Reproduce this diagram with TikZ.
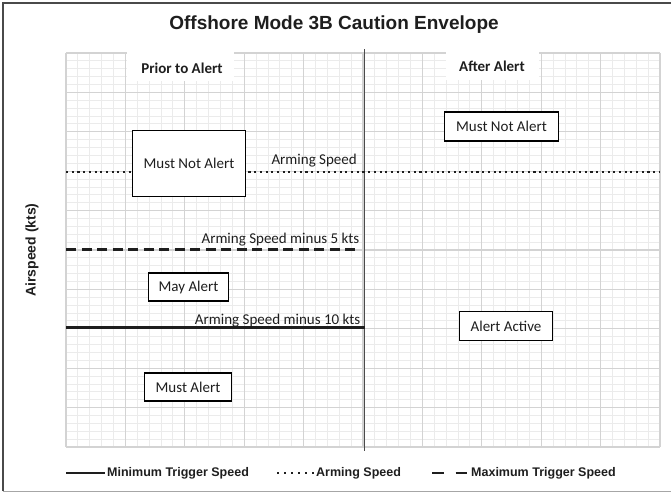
\documentclass[tikz,border=0pt]{standalone}
\usepackage{fontspec}
\setmainfont{Carlito}
\newfontfamily\arialf{Liberation Sans}
\definecolor{minorc}{HTML}{EBEBEB}
\definecolor{majorc}{HTML}{D3D3D3}
\definecolor{framec}{HTML}{4A4A4A}
\definecolor{txtc}{HTML}{1E1E1E}
\begin{document}
\begin{tikzpicture}[x=1pt,y=-1pt,
  minorgrid/.style={draw=minorc, line width=0.9pt},
  majorgrid/.style={draw=majorc, line width=1.3pt},
  cal/.style={font=\fontsize{15}{18}\selectfont, text=txtc, inner sep=0pt},
  calb/.style={font=\bfseries\fontsize{15}{18}\selectfont, text=txtc, inner sep=0pt},
  regionbox/.style={draw=black, line width=1.2pt, fill=white, font=\fontsize{15}{18}\selectfont, text=txtc, inner sep=0pt},
  legtext/.style={font=\arialf\bfseries\fontsize{12.5}{14}\selectfont, text=txtc, inner sep=0pt, anchor=west},
  armline/.style={line width=2.6pt, dash pattern=on 2.1pt off 3.6pt, draw=txtc},
  maxline/.style={line width=3pt, dash pattern=on 10pt off 5.5pt, draw=txtc},
  minline/.style={line width=2.2pt, draw=txtc}]
\useasboundingbox (0,0) rectangle (671,493);
\fill[white] (0,0) rectangle (671,493);
% frame
\draw[framec, line width=2pt] (3,491) -- (3,3) -- (671,3);
\draw[black!35, line width=1.5pt] (3,491.5) -- (671,491.5);
% grid
\foreach \i in {0,...,50} {
  \pgfmathsetmacro\xx{66+\i*11.88}
  \draw[minorgrid] (\xx,53) -- (\xx,447);
  \pgfmathsetmacro\yy{53+\i*7.88}
  \draw[minorgrid] (66,\yy) -- (660,\yy);
}
\foreach \i in {0,5,...,50} {
  \pgfmathsetmacro\xx{66+\i*11.88}
  \draw[majorgrid] (\xx,53) -- (\xx,447);
  \pgfmathsetmacro\yy{53+\i*7.88}
  \draw[majorgrid] (66,\yy) -- (660,\yy);
}
% white header patches
\fill[white] (127,48) rectangle (234,81);
\fill[white] (446,48) rectangle (539,80);
% title and axis label
\node[font=\arialf\bfseries\fontsize{19}{22}\selectfont, text=txtc, inner sep=0pt] (title) at (334,25) {Offshore Mode 3B Caution Envelope};
\node[rotate=90, font=\arialf\bfseries\fontsize{14}{16}\selectfont, text=txtc, inner sep=0pt] (ylab) at (32,250) {Airspeed (kts)};
% headers
\node[calb] (prior) at (182,68) {Prior to Alert};
\node[calb] (after) at (492,66) {After Alert};
% axis divider
\coordinate (axT) at (364.5,49);
\coordinate (axB) at (364.5,451);
\draw[framec, line width=1.5pt] (axT) -- (axB);
% speed lines
\coordinate (asL) at (66,172);
\coordinate (asR) at (660,172);
\coordinate (mxL) at (66,249);
\coordinate (mxR) at (360,249);
\coordinate (mnL) at (66,327.5);
\coordinate (mnR) at (365,327.5);
\draw[armline] (asL) -- (asR);
\draw[maxline] (mxL) -- (mxR);
\draw[minline] (mnL) -- (mnR);
\node[cal, anchor=east] (asl) at (357,161) {Arming Speed};
\node[cal, anchor=east] (mxl) at (359.5,239.5) {Arming Speed minus 5 kts};
\node[cal, anchor=east] (mnl) at (360.5,320.5) {Arming Speed minus 10 kts};
% region boxes
\node[regionbox, minimum width=113pt, minimum height=66pt] (mna1) at (189,163.5) {Must Not Alert};
\node[regionbox, minimum width=114pt, minimum height=29pt] (mna2) at (501.5,126.5) {Must Not Alert};
\node[regionbox, minimum width=80pt, minimum height=28pt] (may) at (188.5,287) {May Alert};
\node[regionbox, minimum width=93pt, minimum height=29pt] (active) at (506,326) {Alert Active};
\node[regionbox, minimum width=87pt, minimum height=28pt] (must) at (188,387) {Must Alert};
% legend
\coordinate (g1a) at (66,473);
\coordinate (g1b) at (105,473);
\draw[line width=2.8pt, draw=txtc] (g1a) -- (g1b);
\node[legtext] (g1t) at (107,473) {Minimum Trigger Speed};
\coordinate (g2a) at (277,473);
\coordinate (g2b) at (314,473);
\draw[line width=2pt, dash pattern=on 2pt off 5pt, draw=txtc] (g2a) -- (g2b);
\node[legtext] (g2t) at (316,473) {Arming Speed};
\coordinate (g3a) at (432,473);
\coordinate (g3b) at (467,473);
\draw[line width=2.8pt, dash pattern=on 11.5pt off 12pt, draw=txtc] (g3a) -- (g3b);
\node[legtext] (g3t) at (471,473) {Maximum Trigger Speed};
\end{tikzpicture}
\end{document}
